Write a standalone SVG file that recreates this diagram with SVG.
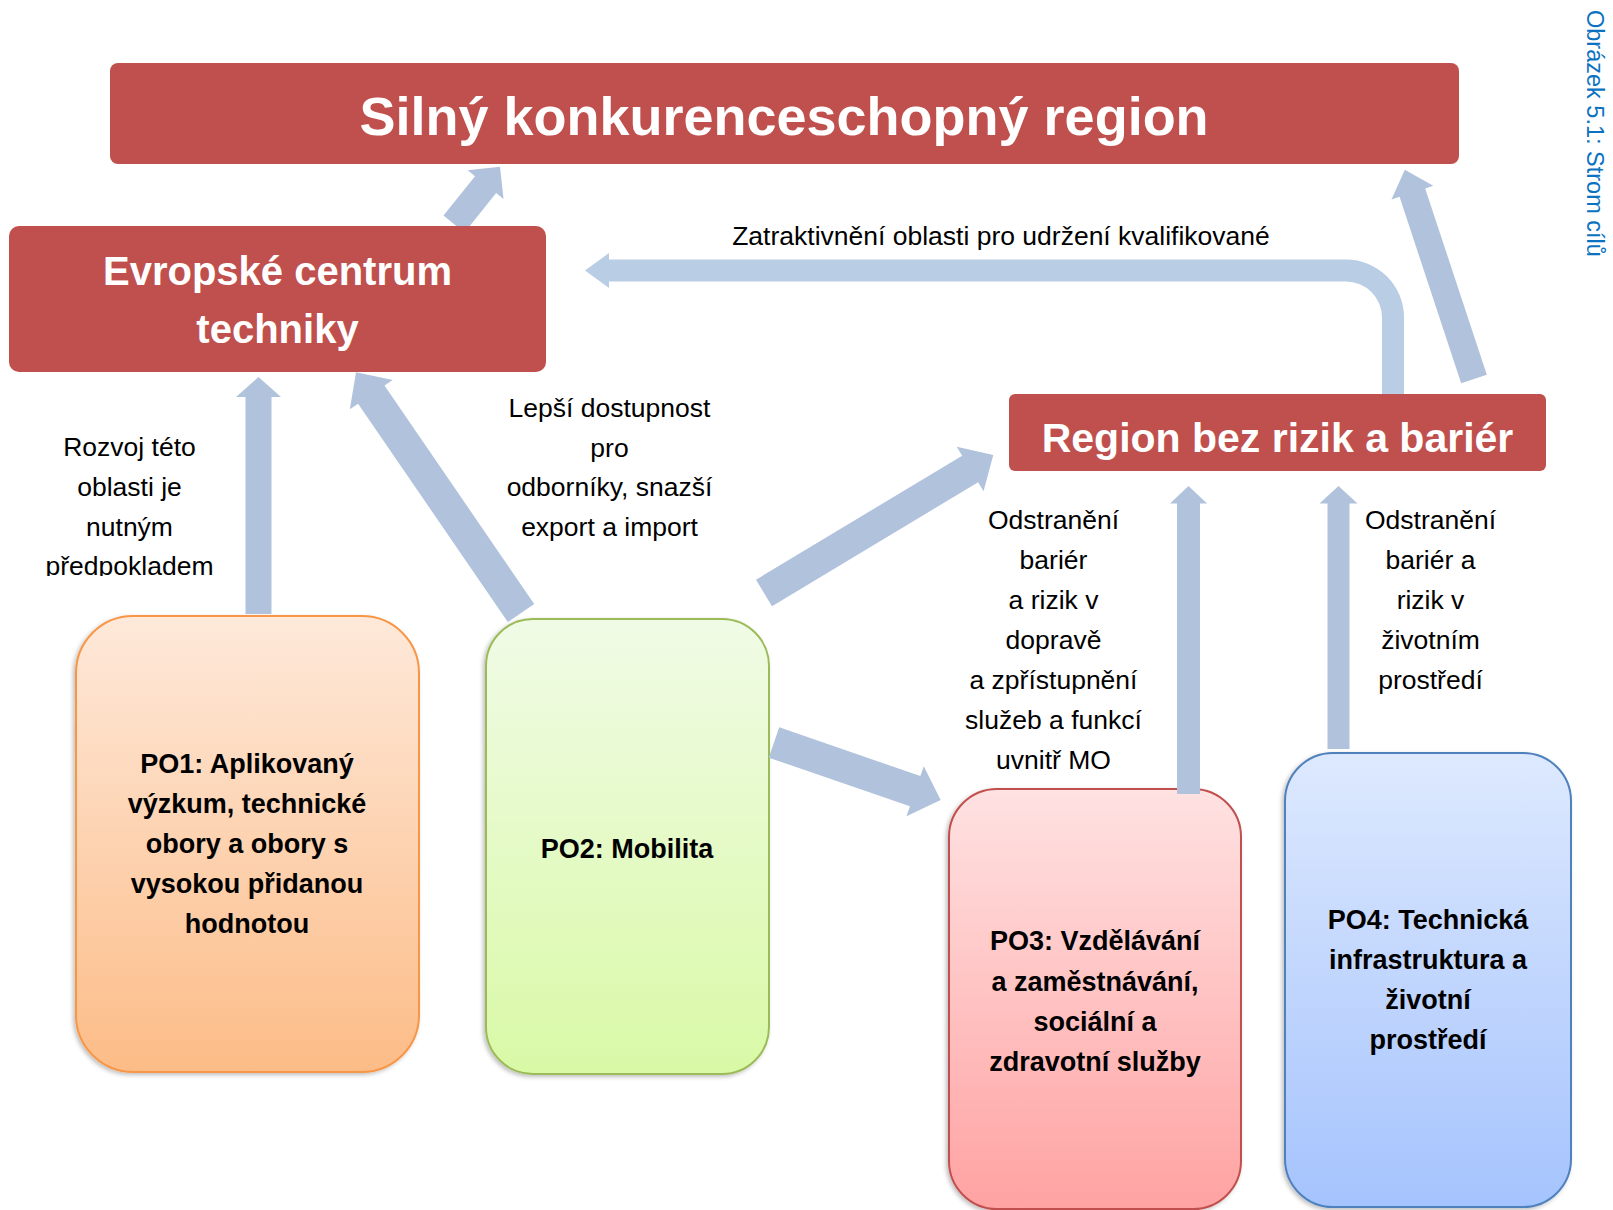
<svg xmlns="http://www.w3.org/2000/svg" width="1613" height="1210" viewBox="0 0 1613 1210">
<style>
text{font-family:"Liberation Sans",Arial,sans-serif;text-anchor:middle}
.lbl{font-size:26.5px;fill:#000}
.po{font-size:27px;font-weight:bold;fill:#000}
.hd{font-weight:bold;fill:#fff}
.red{fill:#C0504D}
.arr{fill:#B1C2DC}
.arr2{fill:#B9CDE5}
</style>
<defs>
<linearGradient id="g1" x1="0" y1="0" x2="0" y2="1"><stop offset="0" stop-color="#FEE9DA"/><stop offset="1" stop-color="#FCBC87"/></linearGradient>
<linearGradient id="g2" x1="0" y1="0" x2="0" y2="1"><stop offset="0" stop-color="#F0FBE6"/><stop offset="1" stop-color="#D9F9A6"/></linearGradient>
<linearGradient id="g3" x1="0" y1="0" x2="0" y2="1"><stop offset="0" stop-color="#FFE2E2"/><stop offset="1" stop-color="#FFA2A2"/></linearGradient>
<linearGradient id="g4" x1="0" y1="0" x2="0" y2="1"><stop offset="0" stop-color="#DDE9FE"/><stop offset="1" stop-color="#A5C3FD"/></linearGradient>
<filter id="sh" x="-10%" y="-10%" width="120%" height="120%"><feDropShadow dx="-2" dy="2" stdDeviation="2" flood-color="#000" flood-opacity="0.25"/></filter>
<clipPath id="clipL"><rect x="0" y="410" width="240" height="166"/></clipPath>
</defs>

<g id="po1">
<rect x="76" y="616" width="343" height="456" rx="57" ry="57" fill="url(#g1)" stroke="#F79646" stroke-width="2" filter="url(#sh)"/>
<text class="po"><tspan x="247" y="773">PO1: Aplikovaný</tspan><tspan x="247" y="813">výzkum, technické</tspan><tspan x="247" y="853">obory a obory s</tspan><tspan x="247" y="893">vysokou přidanou</tspan><tspan x="247" y="933">hodnotou</tspan></text>
</g>
<g id="po2">
<rect x="486" y="619" width="283" height="455" rx="47" ry="47" fill="url(#g2)" stroke="#9BBB59" stroke-width="2" filter="url(#sh)"/>
<text class="po" x="627" y="858">PO2: Mobilita</text>
</g>
<g id="po3">
<rect x="949" y="789" width="292" height="420" rx="48" ry="48" fill="url(#g3)" stroke="#C0504D" stroke-width="2" filter="url(#sh)"/>
<text class="po"><tspan x="1095" y="950">PO3: Vzdělávání</tspan><tspan x="1095" y="990.5">a zaměstnávání,</tspan><tspan x="1095" y="1030.5">sociální a</tspan><tspan x="1095" y="1070.5">zdravotní služby</tspan></text>
</g>
<g id="po4">
<rect x="1285" y="753" width="286" height="454" rx="48" ry="48" fill="url(#g4)" stroke="#4F81BD" stroke-width="2" filter="url(#sh)"/>
<text class="po"><tspan x="1428" y="929">PO4: Technická</tspan><tspan x="1428" y="969">infrastruktura a</tspan><tspan x="1428" y="1009">životní</tspan><tspan x="1428" y="1049">prostředí</tspan></text>
</g>

<g id="connectors">
<path class="arr" transform="translate(454,224) rotate(-51.25)" d="M0,-13.5 L50.5,-13.5 L50.5,-23 L73.5,0 L50.5,23 L50.5,13.5 L0,13.5 Z"/>
<path class="arr" transform="translate(258.5,614) rotate(-90)" d="M0,-13 L217,-13 L217,-22.5 L237,0 L217,22.5 L217,13 L0,13 Z"/>
<path class="arr" transform="translate(521,613) rotate(-124.43)" d="M0,-16 L264.8,-16 L264.8,-26 L291.8,0 L264.8,26 L264.8,16 L0,16 Z"/>
<path class="arr" transform="translate(1474,379) rotate(-108.3)" d="M0,-13.5 L196.3,-13.5 L196.3,-22 L220.3,0 L196.3,22 L196.3,13.5 L0,13.5 Z"/>
<path class="arr" transform="translate(764,593) rotate(-31.04)" d="M0,-15.5 L240.6,-15.5 L240.6,-26 L267.6,0 L240.6,26 L240.6,15.5 L0,15.5 Z"/>
<path class="arr" transform="translate(774,742.5) rotate(19.03)" d="M0,-16 L149.3,-16 L149.3,-26.5 L176.3,0 L149.3,26.5 L149.3,16 L0,16 Z"/>
<path class="arr" transform="translate(1188.5,794) rotate(-90)" d="M0,-11.5 L290.5,-11.5 L290.5,-18.5 L308,0 L290.5,18.5 L290.5,11.5 L0,11.5 Z"/>
<path class="arr" transform="translate(1338.5,749) rotate(-90)" d="M0,-11 L245.5,-11 L245.5,-19 L263,0 L245.5,19 L245.5,11 L0,11 Z"/>
<path class="arr2" d="M1404,396 L1404,317.5 A58,58 0 0 0 1346,259.5 L609,259.5 L609,253 L585,270.5 L609,288 L609,281.5 L1346,281.5 A36,36 0 0 1 1382,317.5 L1382,396 Z"/>
</g>

<g id="top">
<rect class="red" x="110" y="63" width="1349" height="101" rx="8" ry="8"/>
<text class="hd" x="784" y="135" font-size="54">Silný konkurenceschopný region</text>
</g>
<g id="ect">
<rect class="red" x="9" y="226" width="537" height="146" rx="10" ry="10"/>
<text class="hd" font-size="40"><tspan x="277.5" y="284.5">Evropské centrum</tspan><tspan x="277.5" y="342.5">techniky</tspan></text>
</g>
<g id="region">
<rect class="red" x="1009" y="394" width="537" height="77" rx="6" ry="6"/>
<text class="hd" x="1277.5" y="451.5" font-size="41">Region bez rizik a bariér</text>
</g>

<g id="labels">
<text class="lbl" x="1001" y="245">Zatraktivnění oblasti pro udržení kvalifikované</text>
<text class="lbl" clip-path="url(#clipL)"><tspan x="129.5" y="456">Rozvoj této</tspan><tspan x="129.5" y="496">oblasti je</tspan><tspan x="129.5" y="535.5">nutným</tspan><tspan x="129.5" y="575">předpokladem</tspan></text>
<text class="lbl"><tspan x="609.5" y="417">Lepší dostupnost</tspan><tspan x="609.5" y="456.5">pro</tspan><tspan x="609.5" y="496">odborníky, snazší</tspan><tspan x="609.5" y="536">export a import</tspan></text>
<text class="lbl"><tspan x="1053.5" y="528.5">Odstranění</tspan><tspan x="1053.5" y="569">bariér</tspan><tspan x="1053.5" y="609">a rizik v</tspan><tspan x="1053.5" y="648.5">dopravě</tspan><tspan x="1053.5" y="688.5">a zpřístupnění</tspan><tspan x="1053.5" y="728.5">služeb a funkcí</tspan><tspan x="1053.5" y="769">uvnitř MO</tspan></text>
<text class="lbl"><tspan x="1430.5" y="528.5">Odstranění</tspan><tspan x="1430.5" y="569">bariér a</tspan><tspan x="1430.5" y="609">rizik v</tspan><tspan x="1430.5" y="648.5">životním</tspan><tspan x="1430.5" y="688.5">prostředí</tspan></text>
</g>

<g id="caption">
<text transform="translate(1587,10) rotate(90)" x="0" y="0" font-size="23.5" fill="#0B72C2" style="text-anchor:start">Obrázek 5.1: Strom cílů</text>
</g>
</svg>
